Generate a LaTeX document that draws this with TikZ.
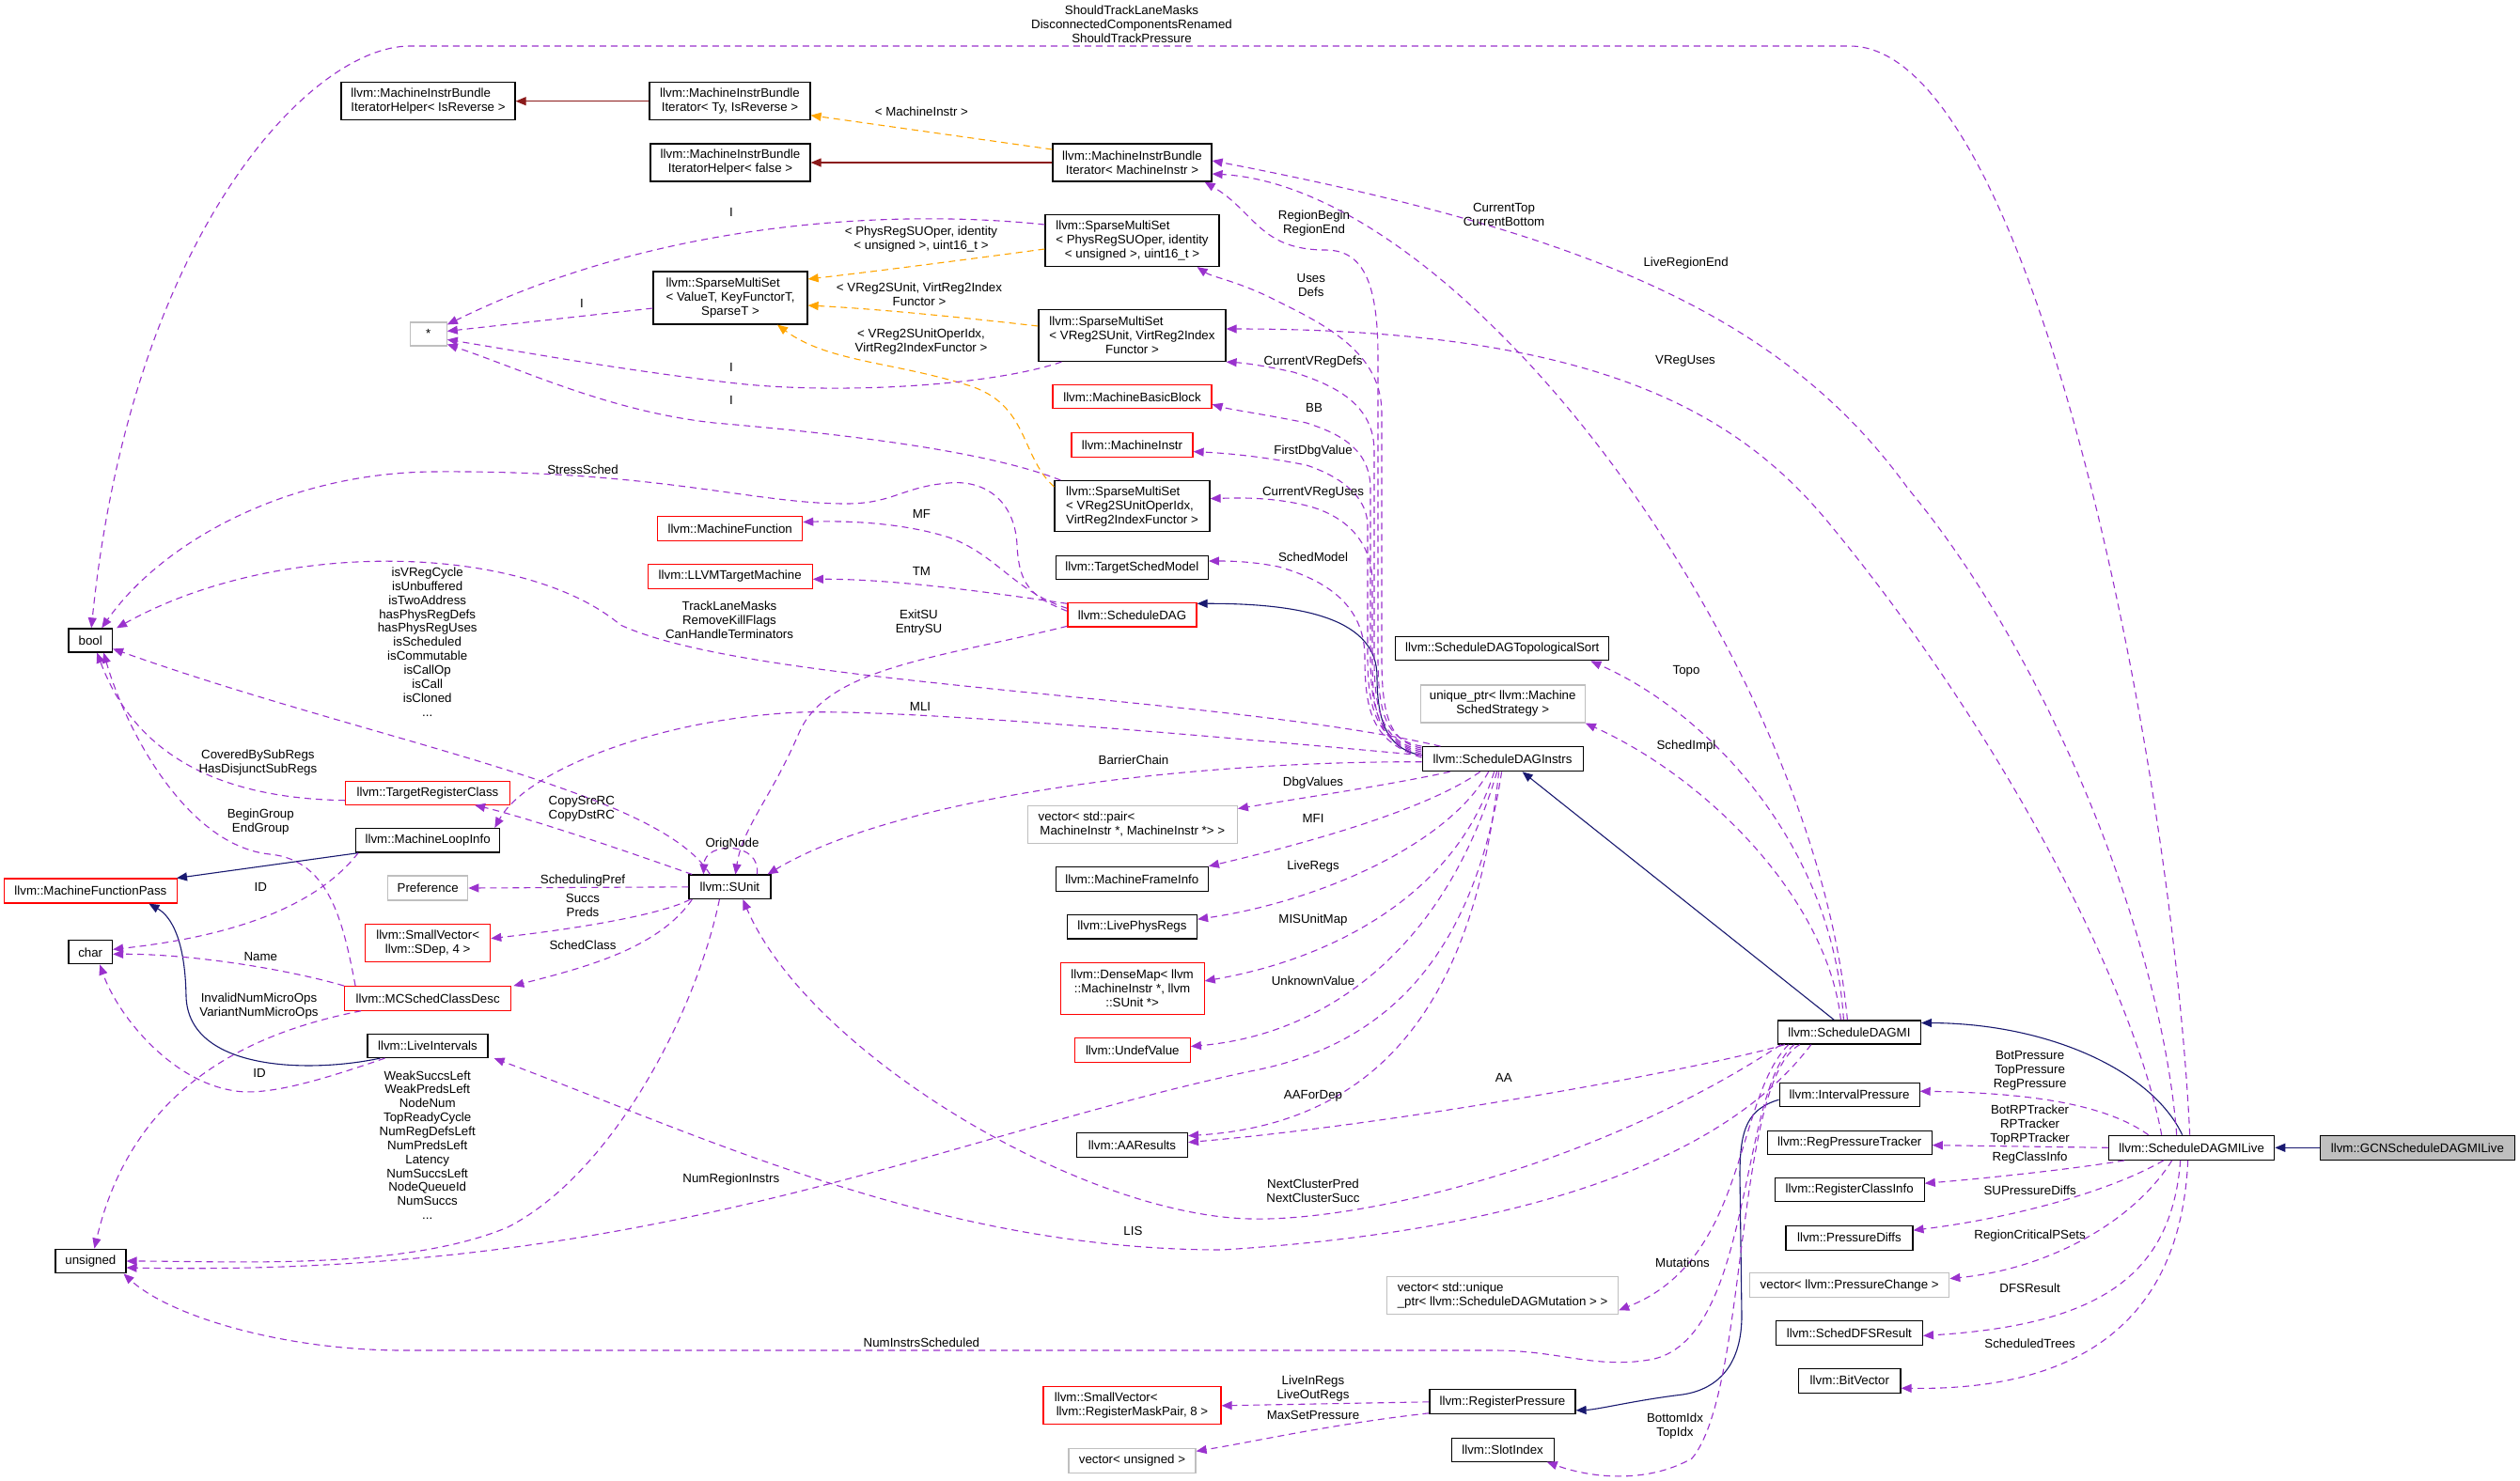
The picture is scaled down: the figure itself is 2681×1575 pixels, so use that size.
\documentclass[tikz,border=0pt]{standalone}
\usepackage{fontspec}
\setmainfont{Liberation Sans}
\usetikzlibrary{arrows.meta}
\definecolor{purp}{RGB}{154,50,205}
\definecolor{orng}{RGB}{255,165,0}
\definecolor{fbrick}{RGB}{139,26,26}
\definecolor{mnblue}{RGB}{25,25,112}
\definecolor{grayb}{RGB}{191,191,191}
\newlength\dxlen
\newcommand\dxfirst[2]{\settowidth{\dxlen}{#2}\makebox[\dxlen][l]{#1}}
\begin{document}
\begin{tikzpicture}[x=1pt,y=-1pt,
  every node/.style={font=\fontsize{13.3}{15}\selectfont, inner sep=0pt, align=center},
  bk/.style={draw=black,line width=1.2pt},
  rd/.style={draw=red,line width=1.2pt},
  gy/.style={draw=grayb,line width=1.2pt},
  use/.style={draw=purp,line width=1.1pt,dash pattern=on 7pt off 5pt,-{Triangle[length=11pt,width=9pt]}},
  tmpl/.style={draw=orng,line width=1.1pt,dash pattern=on 7pt off 5pt,-{Triangle[length=11pt,width=9pt]}},
  inhb/.style={draw=mnblue,line width=1.1pt,-{Triangle[length=11pt,width=9pt]}},
  inhr/.style={draw=fbrick,line width=1.1pt,-{Triangle[length=11pt,width=9pt]}}]
\fill[white] (0,0) rectangle (2681,1575);
\useasboundingbox (0,0) rectangle (2681,1575);
% ---------- nodes ----------
\node[bk,minimum width=185pt,minimum height=40pt] (mibhr) at (455.5,107.7) {\dxfirst{llvm::MachineInstrBundle}{IteratorHelper< IsReverse >}\\IteratorHelper< IsReverse >};
\node[bk,minimum width=171pt,minimum height=40pt] (mibity) at (776.5,107.7) {llvm::MachineInstrBundle\\Iterator< Ty, IsReverse >};
\node[bk,minimum width=170pt,minimum height=40pt] (mibhf) at (777,173) {llvm::MachineInstrBundle\\IteratorHelper< false >};
\node[gy,minimum width=39pt,minimum height=25pt] (star) at (455.7,355.4) {*};
\node[bk,minimum width=164pt,minimum height=56pt] (smsv) at (777,317) {\dxfirst{llvm::SparseMultiSet}{< ValueT, KeyFunctorT,}\\< ValueT, KeyFunctorT,\\ SparseT >};
\node[bk,minimum width=169pt,minimum height=40pt] (mibimi) at (1204.5,173) {llvm::MachineInstrBundle\\Iterator< MachineInstr >};
\node[bk,minimum width=185pt,minimum height=55pt] (smsp) at (1204.5,256) {\dxfirst{llvm::SparseMultiSet}{< PhysRegSUOper, identity}\\< PhysRegSUOper, identity\\< unsigned >, uint16\_t >};
\node[bk,minimum width=199pt,minimum height=55pt] (smsvr) at (1204.5,357) {\dxfirst{llvm::SparseMultiSet}{< VReg2SUnit, VirtReg2Index}\\< VReg2SUnit, VirtReg2Index\\Functor >};
\node[rd,minimum width=169pt,minimum height=25pt] (mbb) at (1204.5,422.3) {llvm::MachineBasicBlock};
\node[rd,minimum width=129pt,minimum height=26pt] (mi) at (1204.5,473.6) {llvm::MachineInstr};
\node[bk,minimum width=165pt,minimum height=54pt] (smso) at (1204.5,538.6) {\dxfirst{llvm::SparseMultiSet}{VirtReg2IndexFunctor >}\\\dxfirst{< VReg2SUnitOperIdx,}{VirtReg2IndexFunctor >}\\VirtReg2IndexFunctor >};
\node[rd,minimum width=154pt,minimum height=26pt] (mf) at (776.7,562.5) {llvm::MachineFunction};
\node[rd,minimum width=175pt,minimum height=26pt] (ltm) at (776.7,613.3) {llvm::LLVMTargetMachine};
\node[bk,minimum width=46.5pt,minimum height=25pt] (bool) at (96.2,681.4) {bool};
\node[rd,minimum width=175pt,minimum height=25pt] (trc) at (455,843.7) {llvm::TargetRegisterClass};
\node[bk,minimum width=153pt,minimum height=25.5pt] (mli) at (455.2,894.3) {llvm::MachineLoopInfo};
\node[bk,minimum width=87pt,minimum height=25.5pt] (sunit) at (776.4,943.8) {llvm::SUnit};
\node[rd,minimum width=184pt,minimum height=26pt] (mfp) at (96.4,948) {llvm::MachineFunctionPass};
\node[gy,minimum width=85pt,minimum height=26pt] (pref) at (455.2,945) {Preference};
\node[rd,minimum width=133pt,minimum height=40pt] (svsdep) at (455.2,1003.6) {llvm::SmallVector<\\llvm::SDep, 4 >};
\node[bk,minimum width=46.5pt,minimum height=25pt] (char) at (96.2,1013.3) {char};
\node[rd,minimum width=177pt,minimum height=25.5pt] (mcscd) at (455.2,1062.4) {llvm::MCSchedClassDesc};
\node[bk,minimum width=128pt,minimum height=25pt] (lis) at (455,1113) {llvm::LiveIntervals};
\node[bk,minimum width=75pt,minimum height=25.6pt] (unsigned) at (96.4,1342) {unsigned};
\node[bk,minimum width=162pt,minimum height=25.5pt] (tsm) at (1204.3,604) {llvm::TargetSchedModel};
\node[rd,minimum width=137pt,minimum height=25.5pt] (sdag) at (1204.5,654.3) {llvm::ScheduleDAG};
\node[bk,minimum width=227pt,minimum height=25pt] (topo) at (1598.3,690.3) {llvm::ScheduleDAGTopologicalSort};
\node[gy,minimum width=175pt,minimum height=40pt] (uptr) at (1598.7,749) {unique\_ptr< llvm::Machine\\SchedStrategy >};
\node[bk,minimum width=171pt,minimum height=26pt] (sdi) at (1598.6,807.7) {llvm::ScheduleDAGInstrs};
\node[gy,minimum width=223pt,minimum height=40pt] (vpair) at (1204.8,877.5) {\dxfirst{vector< std::pair<}{ MachineInstr *, MachineInstr *> >}\\ MachineInstr *, MachineInstr *> >};
\node[bk,minimum width=162pt,minimum height=26pt] (mfi) at (1204.3,935.8) {llvm::MachineFrameInfo};
\node[bk,minimum width=138pt,minimum height=25.5pt] (lpr) at (1204.5,986.2) {llvm::LivePhysRegs};
\node[rd,minimum width=153pt,minimum height=55pt] (dmap) at (1204.6,1051.9) {llvm::DenseMap< llvm\\::MachineInstr *, llvm\\::SUnit *>};
\node[rd,minimum width=123pt,minimum height=26pt] (undef) at (1204.8,1117.5) {llvm::UndefValue};
\node[bk,minimum width=118pt,minimum height=25.6pt] (aar) at (1204.5,1218.6) {llvm::AAResults};
\node[gy,minimum width=246pt,minimum height=40pt] (vmut) at (1598.6,1378.3) {\dxfirst{vector< std::unique}{\_ptr< llvm::ScheduleDAGMutation > >}\\\_ptr< llvm::ScheduleDAGMutation > >};
\node[rd,minimum width=189pt,minimum height=40pt] (svrmp) at (1204.5,1495.8) {\dxfirst{llvm::SmallVector<}{ llvm::RegisterMaskPair, 8 >}\\ llvm::RegisterMaskPair, 8 >};
\node[bk,minimum width=155pt,minimum height=26pt] (rp) at (1598.5,1491.8) {llvm::RegisterPressure};
\node[gy,minimum width=135pt,minimum height=26pt] (vuns) at (1204.5,1554.3) {vector< unsigned >};
\node[bk,minimum width=109pt,minimum height=25pt] (slot) at (1598.6,1542.6) {llvm::SlotIndex};
\node[bk,minimum width=152pt,minimum height=25pt] (sdmi) at (1967.4,1098.5) {llvm::ScheduleDAGMI};
\node[bk,minimum width=149pt,minimum height=25pt] (ip) at (1967.6,1165.2) {llvm::IntervalPressure};
\node[bk,minimum width=175pt,minimum height=25pt] (rpt) at (1967.7,1215.6) {llvm::RegPressureTracker};
\node[bk,minimum width=176pt,minimum height=26pt] (sdmil) at (2331.7,1221.3) {llvm::ScheduleDAGMILive};
\node[bk,fill=grayb,minimum width=207pt,minimum height=26pt] (gcn) at (2571.9,1221.3) {llvm::GCNScheduleDAGMILive};
\node[bk,minimum width=159pt,minimum height=25pt] (rci) at (1967.7,1266.2) {llvm::RegisterClassInfo};
\node[bk,minimum width=135pt,minimum height=26pt] (pd) at (1967.4,1317.2) {llvm::PressureDiffs};
\node[gy,minimum width=212pt,minimum height=26pt] (vpc) at (1967.7,1367.6) {vector< llvm::PressureChange >};
\node[bk,minimum width=156pt,minimum height=26pt] (dfs) at (1967.4,1418.4) {llvm::SchedDFSResult};
\node[bk,minimum width=108.5pt,minimum height=26pt] (bv) at (1967.8,1469.2) {llvm::BitVector};
% ---------- inheritance ----------
\draw[inhb] (gcn.west) -- (sdmil.east);
\draw[inhb] ([xshift=-10pt]sdmil.north) .. controls (2290,1140) and (2180,1089) .. ([yshift=10pt]sdmi.east);
\draw[inhb] ([xshift=-16pt]sdmi.north) -- ([xshift=21pt]sdi.south);
\draw[inhb] ([yshift=4pt]sdi.west) .. controls (1480,798) and (1465,775) .. (1465,720) .. controls (1465,660) and (1390,642) .. ([yshift=12pt]sdag.east);
\draw[inhb] ([yshift=-5pt]ip.west) .. controls (1860,1180) and (1851,1200) .. (1851,1250) -- (1853,1400) .. controls (1853,1450) and (1830,1478) .. (1790,1484) .. controls (1740,1490) and (1700,1500) .. ([yshift=-9pt]rp.east);
\draw[inhb] ([xshift=14pt]lis.south west) .. controls (330,1142) and (200,1140) .. (198,1060) .. controls (197,1000) and (182,975) .. ([xshift=62pt]mfp.south);
\draw[inhb] ([xshift=3pt]mli.south west) -- ([xshift=-1pt]mfp.north east);
\draw[inhr] (mibity.west) -- (mibhr.east);
\draw[inhr] (mibimi.west) -- (mibhf.east);
% ---------- template instances ----------
\draw[tmpl] ([yshift=14pt]mibimi.west) -- ([yshift=-15pt]mibity.east);
\draw[tmpl] ([yshift=-9pt]smsp.west) .. controls (1000,280) and (920,290) .. ([yshift=20pt]smsv.east);
\draw[tmpl] ([yshift=10pt]smsvr.west) .. controls (1000,335) and (920,328) .. ([yshift=-8pt]smsv.east);
\draw[tmpl] ([yshift=-7pt]smso.north west) .. controls (1085,485) and (1095,430) .. (1030,410) .. controls (950,385) and (880,385) .. ([xshift=50pt]smsv.south);
% ---------- to star ----------
\draw[use] ([yshift=17pt]smsp.west) .. controls (950,222) and (700,235) .. ([yshift=10pt]star.east);
\draw[use] ([yshift=-11pt]smsv.west) -- ([yshift=3pt]star.east);
\draw[use] ([xshift=25pt]smsvr.south west) .. controls (1050,412) and (880,420) .. (775,407) .. controls (650,392) and (560,375) .. ([yshift=-6pt]star.east);
\draw[use] ([xshift=7pt]smso.north west) .. controls (1050,480) and (900,462) .. (760,450) .. controls (650,438) and (560,395) .. ([yshift=-11pt]star.east);
% ---------- from ScheduleDAGMILive ----------
\draw[use] ([xshift=-2pt]sdmil.north) .. controls (2310,800) and (2160,49) .. (1968,49) -- (436,49) .. controls (330,49) and (140,250) .. ([xshift=1pt]bool.north);
\draw[use] ([xshift=-16pt]sdmil.north) .. controls (2300,1000) and (2180,700) .. (2030,520) .. controls (1900,340) and (1700,250) .. ([yshift=2pt]mibimi.east);
\draw[use] ([xshift=-32pt]sdmil.north) .. controls (2270,1050) and (2130,780) .. (1946,557) .. controls (1850,440) and (1700,350) .. ([yshift=7pt]smsvr.east);
\draw[use] ([xshift=-46pt]sdmil.north) .. controls (2240,1175) and (2160,1163) .. ([yshift=4pt]ip.east);
\draw[use] (sdmil.west) -- ([yshift=-3pt]rpt.east);
\draw[use] ([xshift=17pt]sdmil.south west) .. controls (2200,1245) and (2100,1255) .. ([yshift=7pt]rci.east);
\draw[use] ([xshift=-30pt]sdmil.south) .. controls (2250,1265) and (2150,1295) .. ([yshift=8pt]pd.east);
\draw[use] ([xshift=-21pt]sdmil.south) .. controls (2270,1300) and (2180,1350) .. ([yshift=7pt]vpc.east);
\draw[use] ([xshift=-12pt]sdmil.south) .. controls (2310,1360) and (2230,1410) .. ([yshift=-3pt]dfs.east);
\draw[use] ([xshift=-4pt]sdmil.south) .. controls (2320,1400) and (2220,1480) .. ([yshift=-8pt]bv.east);
% ---------- from ScheduleDAGMI ----------
\draw[use] ([xshift=-2pt]sdmi.north) .. controls (1930,700) and (1560,200) .. ([yshift=-12pt]mibimi.east);
\draw[use] ([xshift=-6pt]sdmi.north) .. controls (1950,900) and (1820,760) .. ([xshift=-20pt]topo.south east);
\draw[use] ([xshift=-9pt]sdmi.north) .. controls (1945,960) and (1820,830) .. (uptr.south east);
\draw[use] ([xshift=8pt]sdmi.south west) .. controls (1820,1135) and (1500,1195) .. ([yshift=3pt]aar.east);
\draw[use] ([xshift=4pt]sdmi.south west) .. controls (1700,1240) and (1450,1300) .. (1330,1297) .. controls (1150,1293) and (860,1120) .. ([xshift=14pt]sunit.south);
\draw[use] ([xshift=36pt]sdmi.south west) .. controls (1860,1200) and (1700,1305) .. (1300,1330) .. controls (1000,1330) and (750,1210) .. ([xshift=6pt]lis.south east);
\draw[use] ([xshift=18pt]sdmi.south west) .. controls (1850,1160) and (1865,1420) .. (1760,1446) .. controls (1700,1458) and (1660,1437) .. (1590,1437) -- (430,1437) .. controls (300,1437) and (180,1400) .. ([xshift=-3pt]unsigned.south east);
\draw[use] ([xshift=12pt]sdmi.south west) .. controls (1845,1170) and (1860,1340) .. ([yshift=-16pt]vmut.east);
\draw[use] ([xshift=24pt]sdmi.south west) .. controls (1845,1150) and (1860,1480) .. (1800,1552) .. controls (1750,1580) and (1690,1572) .. ([xshift=-8pt]slot.south east);
% ---------- from ScheduleDAGInstrs ----------
\draw[use] ([xshift=20pt]sdi.north west) .. controls (1300,740) and (800,730) .. (660,665) .. controls (560,580) and (300,570) .. ([xshift=4pt]bool.north east);
\draw[use] ([yshift=4pt]sdi.west) .. controls (1200,775) and (950,755) .. (850,758) .. controls (700,765) and (560,820) .. ([xshift=-6pt]mli.north east);
\draw[use] ([yshift=-3pt]sdi.west) .. controls (1250,810) and (950,850) .. ([xshift=-4pt]sunit.north east);
\draw[use] ([xshift=30pt]sdi.south west) .. controls (1480,835) and (1380,850) .. ([yshift=17pt]vpair.east);
\draw[use] ([xshift=-24pt]sdi.south) .. controls (1520,860) and (1400,895) .. ([yshift=14pt]mfi.east);
\draw[use] ([xshift=-15pt]sdi.south) .. controls (1540,900) and (1400,960) .. ([yshift=8pt]lpr.east);
\draw[use] ([xshift=-9pt]sdi.south) .. controls (1550,950) and (1420,1020) .. ([yshift=8pt]dmap.east);
\draw[use] ([xshift=-6pt]sdi.south) .. controls (1540,1000) and (1420,1100) .. ([yshift=4pt]undef.east);
\draw[use] ([xshift=-4pt]sdi.south) .. controls (1570,1050) and (1480,1195) .. ([yshift=10pt]aar.east);
\draw[use] ([xshift=-1pt]sdi.south) .. controls (1570,1000) and (1490,1110) .. (1330,1140) .. controls (1000,1210) and (700,1360) .. ([yshift=-7pt]unsigned.east);
\draw[use] (sdi.north west) .. controls (1475,788) and (1466,760) .. (1466,700) -- (1466,380) .. controls (1466,300) and (1450,266) .. (1410,266) .. controls (1340,266) and (1335,225) .. ([xshift=-8pt]mibimi.south east);
\draw[use] ([yshift=-2pt]sdi.north west) .. controls (1478,790) and (1470,760) .. (1470,700) -- (1470,440) .. controls (1470,380) and (1420,350) .. (1360,321) .. controls (1320,300) and (1290,295) .. ([xshift=-24pt]smsp.south east);
\draw[use] ([yshift=-4pt]sdi.north west) .. controls (1472,790) and (1462,760) .. (1462,700) -- (1462,480) .. controls (1462,430) and (1420,410) .. (1376,396) .. controls (1340,388) and (1320,386) .. (smsvr.south east);
\draw[use] ([yshift=-6pt]sdi.north west) .. controls (1470,790) and (1458,760) .. (1458,700) -- (1458,520) .. controls (1458,475) and (1420,460) .. (1390,450) .. controls (1340,440) and (1310,436) .. ([yshift=-8pt]mbb.east);
\draw[use] ([yshift=-8pt]sdi.north west) .. controls (1468,790) and (1455,760) .. (1455,700) -- (1455,560) .. controls (1455,525) and (1420,505) .. (1390,495) .. controls (1340,485) and (1300,482) .. ([yshift=-7pt]mi.east);
\draw[use] ([yshift=-10pt]sdi.north west) .. controls (1466,790) and (1460,760) .. (1460,700) -- (1460,620) .. controls (1460,575) and (1430,548) .. (1390,538) .. controls (1350,528) and (1310,530) .. ([yshift=8pt]smso.east);
\draw[use] ([yshift=-12pt]sdi.north west) .. controls (1462,790) and (1452,760) .. (1452,700) .. controls (1452,650) and (1420,620) .. (1360,603) .. controls (1330,597) and (1305,597) .. ([yshift=7pt]tsm.east);
% ---------- from ScheduleDAG ----------
\draw[use] ([yshift=7pt]sdag.west) .. controls (1080,630) and (1060,590) .. (1010,572) .. controls (960,556) and (900,554) .. ([yshift=7pt]mf.east);
\draw[use] ([yshift=12pt]sdag.west) .. controls (1050,630) and (950,616) .. ([yshift=-3pt]ltm.east);
\draw[use] ([yshift=4pt]sdag.west) .. controls (1095,635) and (1084,620) .. (1082,580) .. controls (1080,535) and (1050,510) .. (1009,514) .. controls (960,518) and (950,536) .. (900,536) .. controls (800,536) and (700,500) .. (459,502) .. controls (300,504) and (170,580) .. ([xshift=12pt]bool.north);
\draw[use] ([yshift=-12pt]sdag.west) .. controls (1000,700) and (880,710) .. (850,780) .. controls (820,850) and (790,880) .. ([xshift=6pt]sunit.north);
% ---------- from SUnit ----------
\draw[use] ([xshift=-21pt]sunit.north) .. controls (700,840) and (400,790) .. ([yshift=-9pt]bool.east);
\draw[use] ([xshift=4pt]sunit.north west) .. controls (650,900) and (560,870) .. ([xshift=-38pt]trc.south east);
\draw[use] (sunit.west) -- (pref.east);
\draw[use] ([xshift=2pt]sunit.south west) .. controls (700,975) and (600,990) .. ([yshift=5pt]svsdep.east);
\draw[use] ([xshift=4pt]sunit.south west) .. controls (700,1010) and (620,1030) .. ([xshift=2pt]mcscd.north east);
\draw[use] ([xshift=-11pt]sunit.south) .. controls (740,1080) and (650,1250) .. (540,1306) .. controls (430,1352) and (250,1342) .. (unsigned.east);
\draw[use] ([xshift=29pt]sunit.north) .. controls (810,895) and (750,895) .. ([xshift=-28pt]sunit.north);
% ---------- others ----------
\draw[use] ([yshift=-8pt]trc.west) .. controls (260,850) and (150,820) .. ([xshift=7pt]bool.south);
\draw[use] ([xshift=12pt]mcscd.north west) .. controls (365,980) and (350,915) .. (287,909) .. controls (200,900) and (135,780) .. ([xshift=14pt]bool.south);
\draw[use] (mcscd.north west) .. controls (300,1030) and (200,1015) .. ([yshift=-2pt]char.east);
\draw[use] ([xshift=18pt]mcscd.south west) .. controls (260,1100) and (140,1160) .. ([xshift=4pt]unsigned.north);
\draw[use] ([xshift=3pt]mli.south west) .. controls (340,960) and (260,995) .. ([yshift=3pt]char.east);
\draw[use] ([xshift=19pt]lis.south west) .. controls (340,1150) and (280,1168) .. (245,1160) .. controls (180,1148) and (125,1080) .. ([xshift=10pt]char.south);
\draw[use] (rp.west) -- (svrmp.east);
\draw[use] ([yshift=-12pt]rp.west) .. controls (1420,1515) and (1340,1533) .. ([yshift=10pt]vuns.east);
% ---------- labels ----------
\node (l01) at (1204,26) {ShouldTrackLaneMasks\\DisconnectedComponentsRenamed\\ShouldTrackPressure};
\node (l02) at (980.4,118.6) {< MachineInstr >};
\node (l03) at (778,225.7) {I};
\node (l04) at (619,322.5) {I};
\node (l05) at (778,391) {I};
\node (l06) at (778,425.7) {I};
\node (l07) at (980,255) {< PhysRegSUOper, identity\\< unsigned >, uint16\_t >};
\node (l08) at (978,313.4) {< VReg2SUnit, VirtReg2Index\\Functor >};
\node (l09) at (980,364) {< VReg2SUnitOperIdx,\\VirtReg2IndexFunctor >};
\node (l10) at (1398,237.5) {RegionBegin\\RegionEnd};
\node (l11) at (1600,228.2) {CurrentTop\\CurrentBottom};
\node (l12) at (1793.6,280) {LiveRegionEnd};
\node (l13) at (1394.8,303.9) {Uses\\Defs};
\node (l14) at (1793,384.6) {VRegUses};
\node (l15) at (1397,384.6) {CurrentVRegDefs};
\node (l16) at (1398,434.3) {BB};
\node (l17) at (1397,480.4) {FirstDbgValue};
\node (l18) at (1397,524.3) {CurrentVRegUses};
\node (l19) at (620,500) {StressSched};
\node (l20) at (980.4,546.9) {MF};
\node (l21) at (980.4,608.2) {TM};
\node (l22) at (977.5,662.5) {ExitSU\\EntrySU};
\node (l23) at (1397,592.3) {SchedModel};
\node[font=\fontsize{13.3}{14.85}\selectfont] (l24) at (454.7,683) {isVRegCycle\\isUnbuffered\\isTwoAddress\\hasPhysRegDefs\\hasPhysRegUses\\isScheduled\\isCommutable\\isCallOp\\isCall\\isCloned\\...};
\node (l25) at (776,659.5) {TrackLaneMasks\\RemoveKillFlags\\CanHandleTerminators};
\node (l26) at (1794,714) {Topo};
\node (l27) at (1794,794.5) {SchedImpl};
\node (l28) at (979,752.4) {MLI};
\node (l29) at (1206,808.6) {BarrierChain};
\node (l30) at (1397,832.7) {DbgValues};
\node (l31) at (274.4,811.8) {CoveredBySubRegs\\HasDisjunctSubRegs};
\node (l32) at (277.3,874.9) {BeginGroup\\EndGroup};
\node (l33) at (618.8,861.2) {CopySrcRC\\CopyDstRC};
\node (l34) at (1397,871.2) {MFI};
\node (l35) at (779,898) {OrigNode};
\node (l36) at (620,936.7) {SchedulingPref};
\node (l37) at (277.3,944.2) {ID};
\node (l38) at (620,963.8) {Succs\\Preds};
\node (l39) at (1397,922.2) {LiveRegs};
\node (l40) at (1397,979) {MISUnitMap};
\node (l41) at (620,1006.2) {SchedClass};
\node (l42) at (277.3,1018.3) {Name};
\node (l43) at (1397,1044) {UnknownValue};
\node (l44) at (275.5,1070.7) {InvalidNumMicroOps\\VariantNumMicroOps};
\node (l45) at (276,1142.4) {ID};
\node[font=\fontsize{13.3}{14.85}\selectfont] (l46) at (454.7,1218.5) {WeakSuccsLeft\\WeakPredsLeft\\NodeNum\\TopReadyCycle\\NumRegDefsLeft\\NumPredsLeft\\Latency\\NumSuccsLeft\\NodeQueueId\\NumSuccs\\...};
\node (l47) at (1599.8,1146.8) {AA};
\node (l48) at (1397,1166.2) {AAForDep};
\node (l49) at (777.8,1255.3) {NumRegionInstrs};
\node (l50) at (1397,1267.4) {NextClusterPred\\NextClusterSucc};
\node (l51) at (1205.4,1310.2) {LIS};
\node (l52) at (1790,1344) {Mutations};
\node (l53) at (980.4,1428.3) {NumInstrsScheduled};
\node (l54) at (1397,1477.6) {LiveInRegs\\LiveOutRegs};
\node (l55) at (1397,1506) {MaxSetPressure};
\node (l56) at (1782,1518) {BottomIdx\\TopIdx};
\node (l57) at (2159.6,1139.5) {BotPressure\\TopPressure\\RegPressure};
\node (l58) at (2159.6,1196.6) {BotRPTracker\\RPTracker\\TopRPTracker};
\node (l59) at (2159.6,1232.1) {RegClassInfo};
\node (l60) at (2159.6,1266.9) {SUPressureDiffs};
\node (l61) at (2159.6,1315) {RegionCriticalPSets};
\node (l62) at (2159.6,1371) {DFSResult};
\node (l63) at (2159.6,1430) {ScheduledTrees};
\end{tikzpicture}
\end{document}
